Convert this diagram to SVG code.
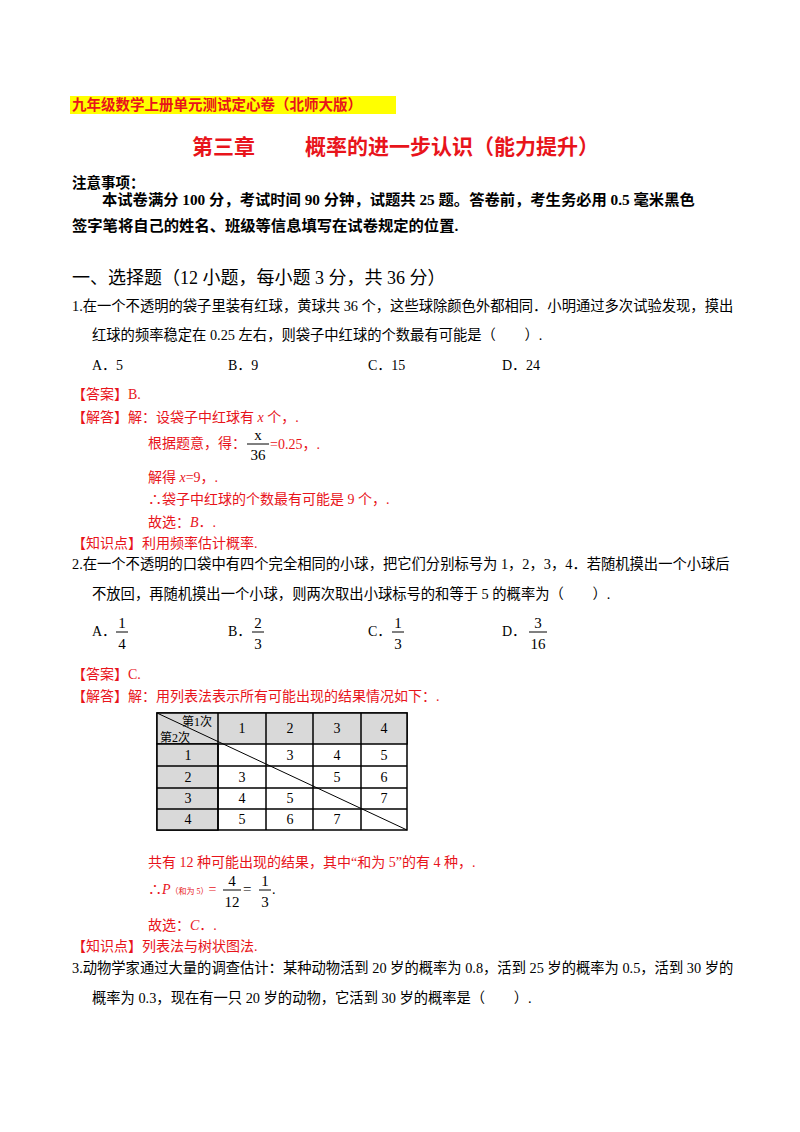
<svg xmlns="http://www.w3.org/2000/svg" width="800" height="1132" viewBox="0 0 800 1132">
<style>
text{font-family:"Liberation Serif","Noto Sans CJK SC",serif;font-size:14px;fill:#000}
.r{fill:#e8141b}
.b{font-weight:bold}
.c{text-anchor:middle}
.f{font-size:15px}
.cell{fill:#fff;stroke:#000;stroke-width:1.5}
.hd{fill:#d9d9d9;stroke:#000;stroke-width:1.5}
</style>
<rect width="800" height="1132" fill="#fff"/>
<rect x="70" y="96" width="326" height="18" fill="#ffff00"/>
<text x="72" y="110" class="r b" style="font-size:14.5px">九年级数学上册单元测试定心卷（北师大版）</text>
<text x="192" y="154" class="r b" style="font-size:21px">第三章</text>
<text x="305" y="154" class="r b" style="font-size:21px">概率的进一步认识（能力提升）</text>
<text x="72" y="188" class="b" style="font-size:14.5px">注意事项：</text>
<text x="102" y="205" class="b" style="font-size:15.3px">本试卷满分 100 分，考试时间 90 分钟，试题共 25 题。答卷前，考生务必用 0.5 毫米黑色</text>
<text x="72" y="231" class="b" style="font-size:15.3px">签字笔将自己的姓名、班级等信息填写在试卷规定的位置.</text>
<text x="72" y="284" style="font-size:18px">一、选择题（12 小题，每小题 3 分，共 36 分）</text>
<text x="72" y="311" style="font-size:14.3px">1.在一个不透明的袋子里装有红球，黄球共 36 个，这些球除颜色外都相同．小明通过多次试验发现，摸出</text>
<text x="92" y="340" style="font-size:14.3px">红球的频率稳定在 0.25 左右，则袋子中红球的个数最有可能是（　　）.</text>
<text x="92" y="370">A．5</text><text x="228" y="370">B．9</text><text x="368" y="370">C．15</text><text x="502" y="370">D．24</text>
<text x="72" y="399" class="r">【答案】B.</text>
<text x="72" y="422" class="r">【解答】解：设袋子中红球有 <tspan font-style="italic">x</tspan> 个，.</text>
<text x="148" y="448" class="r">根据题意，得：</text>
<text x="258" y="440" class="c f">x</text><line x1="247" y1="444" x2="269" y2="444" stroke="#000"/><text x="258" y="460" class="c f">36</text>
<text x="270" y="449" class="r">=0.25，.</text>
<text x="148" y="482" class="r">解得 <tspan font-style="italic">x</tspan>=9，.</text>
<text x="148" y="504" class="r">∴袋子中红球的个数最有可能是 9 个，.</text>
<text x="148" y="527" class="r">故选：<tspan font-style="italic">B</tspan>．.</text>
<text x="72" y="548" class="r">【知识点】利用频率估计概率.</text>
<text x="72" y="569" style="font-size:14.3px">2.在一个不透明的口袋中有四个完全相同的小球，把它们分别标号为 1，2，3，4．若随机摸出一个小球后</text>
<text x="92" y="599" style="font-size:14.3px">不放回，再随机摸出一个小球，则两次取出小球标号的和等于 5 的概率为（　　）.</text>
<text x="92" y="636">A．</text><text x="122" y="628" class="c f">1</text><line x1="116" y1="632" x2="128" y2="632" stroke="#000"/><text x="122" y="649" class="c f">4</text>
<text x="228" y="636">B．</text><text x="258" y="628" class="c f">2</text><line x1="252" y1="632" x2="264" y2="632" stroke="#000"/><text x="258" y="649" class="c f">3</text>
<text x="368" y="636">C．</text><text x="398" y="628" class="c f">1</text><line x1="392" y1="632" x2="404" y2="632" stroke="#000"/><text x="398" y="649" class="c f">3</text>
<text x="502" y="636">D．</text><text x="538" y="628" class="c f">3</text><line x1="529" y1="632" x2="547" y2="632" stroke="#000"/><text x="538" y="649" class="c f">16</text>
<text x="72" y="679" class="r">【答案】C.</text>
<text x="72" y="701" class="r">【解答】解：用列表法表示所有可能出现的结果情况如下：.</text>
<g id="table">
<rect x="157" y="713" width="250" height="117" class="cell"/>
<rect x="157" y="713" width="250" height="31" class="hd"/>
<rect x="157" y="744" width="61" height="86" class="hd"/>
<g stroke="#000" stroke-width="1.5">
<line x1="218" y1="713" x2="218" y2="830"/><line x1="266" y1="713" x2="266" y2="830"/>
<line x1="313" y1="713" x2="313" y2="830"/><line x1="361" y1="713" x2="361" y2="830"/>
<line x1="157" y1="766" x2="407" y2="766"/><line x1="157" y1="788" x2="407" y2="788"/><line x1="157" y1="809" x2="407" y2="809"/>
<line x1="157" y1="713" x2="407" y2="830" stroke-width="1"/>
</g>
<text x="182" y="726" style="font-size:12px">第1次</text><text x="160" y="742" style="font-size:12px">第2次</text>
<g style="font-size:12.5px">
<text x="242" y="733" class="c">1</text><text x="290" y="733" class="c">2</text><text x="337" y="733" class="c">3</text><text x="384" y="733" class="c">4</text>
<text x="188" y="760" class="c">1</text><text x="290" y="760" class="c">3</text><text x="337" y="760" class="c">4</text><text x="384" y="760" class="c">5</text>
<text x="188" y="782" class="c">2</text><text x="242" y="782" class="c">3</text><text x="337" y="782" class="c">5</text><text x="384" y="782" class="c">6</text>
<text x="188" y="803" class="c">3</text><text x="242" y="803" class="c">4</text><text x="290" y="803" class="c">5</text><text x="384" y="803" class="c">7</text>
<text x="188" y="824" class="c">4</text><text x="242" y="824" class="c">5</text><text x="290" y="824" class="c">6</text><text x="337" y="824" class="c">7</text>
</g>
</g>
<text x="148" y="867" class="r">共有 12 种可能出现的结果，其中“和为 5”的有 4 种，.</text>
<text x="148" y="894" class="r">∴<tspan font-style="italic">P</tspan><tspan style="font-size:8px">（和为 5）</tspan>=</text>
<text x="232" y="886" class="c f">4</text><line x1="223" y1="890" x2="241" y2="890" stroke="#000"/><text x="232" y="907" class="c f">12</text>
<text x="243" y="894" class="f">=</text>
<text x="265" y="886" class="c f">1</text><line x1="259" y1="890" x2="271" y2="890" stroke="#000"/><text x="265" y="907" class="c f">3</text>
<text x="272" y="894">.</text>
<text x="148" y="930" class="r">故选：<tspan font-style="italic">C</tspan>．.</text>
<text x="72" y="951" class="r">【知识点】列表法与树状图法.</text>
<text x="72" y="973" style="font-size:14.3px">3.动物学家通过大量的调查估计：某种动物活到 20 岁的概率为 0.8，活到 25 岁的概率为 0.5，活到 30 岁的</text>
<text x="92" y="1003" style="font-size:14.3px">概率为 0.3，现在有一只 20 岁的动物，它活到 30 岁的概率是（　　）.</text>
</svg>
